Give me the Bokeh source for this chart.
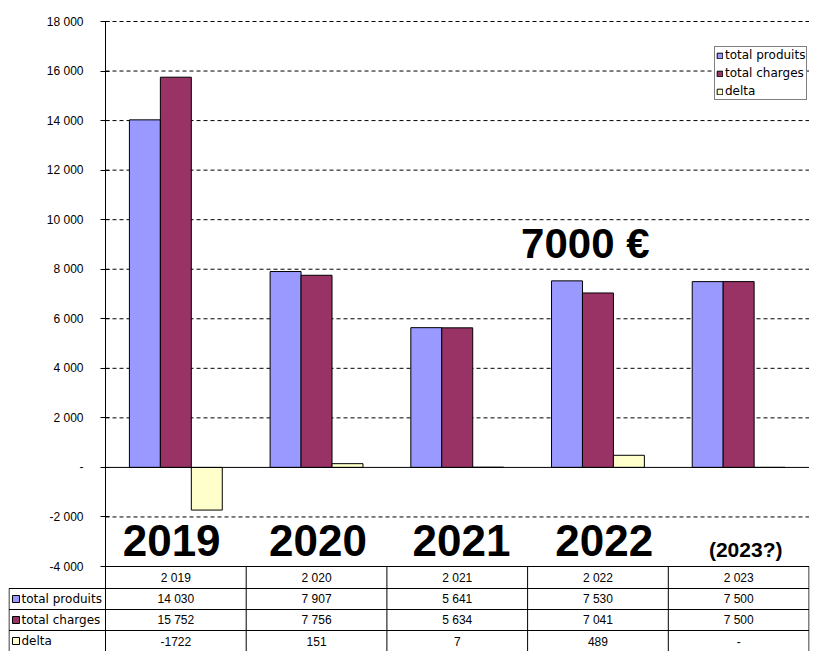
from bokeh.plotting import figure
from bokeh.models import (ColumnDataSource, Range1d, FixedTicker, Legend, LegendItem)
from bokeh.transform import dodge
from bokeh.core.properties import value
from bokeh.embed import file_html
from bokeh.resources import INLINE

# ---------------- data ----------------
years = [2019, 2020, 2021, 2022, 2023]
total_produits = [14030, 7907, 5641, 7530, 7500]
total_charges = [15752, 7756, 5634, 7041, 7500]
delta = [-1722, 151, 7, 489, 0]
series_names = ["total produits", "total charges", "delta"]
series_colors = ["#9999FF", "#993366", "#FFFFCC"]
y_ticks = [-4000, -2000, 0, 2000, 4000, 6000, 8000, 10000, 12000, 14000, 16000, 18000]
big_year_labels = ["2019", "2020", "2021", "2022"]
forecast_label = "(2023?)"
callout_text = "7000 €"


def fmt_sep(v):
    if v == 0:
        return "-"
    return f"{v:,}".replace(",", " ")


def fmt_plain(v):
    return "-" if v == 0 else str(v)


# ---------------- layout (pixels) ----------------
W, H = 816, 651
FRAME_L, FRAME_R = 8, 809               # frame spans the table's label column too
TOP_PAD = 12                            # room above the top tick label
CHART_TOP = 21                          # page y of the 18 000 line
AXIS_X = 105                            # page x of the value axis
CHART_H = 545                           # -4000 .. 18000
ROW_EDGES = [0, 22, 43, 64, 85]         # table row boundaries below -4000, px
n = len(years)
unit = (FRAME_R - 0.5 - AXIS_X) / n     # px per category
x_start = -(AXIS_X - FRAME_L) / unit
x_end = x_start + (FRAME_R - FRAME_L) / unit
k = CHART_H / (y_ticks[-1] - y_ticks[0])   # px per value unit
y_max = y_ticks[-1]
y_tab = y_ticks[0]
y_top = y_max + TOP_PAD / k
y_bottom = y_tab - ROW_EDGES[-1] / k
edges_y = [y_tab - e / k for e in ROW_EDGES]

centers = [i + 0.5 for i in range(n)]
bar_w = 0.22

src = ColumnDataSource(dict(x=centers, produits=total_produits,
                            charges=total_charges, delta=delta))

p = figure(width=W, height=H,
           x_range=Range1d(x_start, x_end), y_range=Range1d(y_bottom, y_top),
           output_backend="svg", toolbar_location=None,
           x_axis_location=None,
           min_border_left=FRAME_L, min_border_right=W - FRAME_R,
           min_border_top=CHART_TOP - TOP_PAD, min_border_bottom=0,
           outline_line_color=None, background_fill_color="white")
p.grid.visible = False

# dashed value grid, from the axis to the right edge
grid_vals = [t for t in y_ticks if t not in (0, y_ticks[0])]
p.segment(x0=[0] * len(grid_vals), y0=grid_vals, x1=[n] * len(grid_vals), y1=grid_vals,
          line_color="black", line_width=1, line_dash="4 3")

# y axis at x = 0 (its line continues down as the table's rule)
yax = p.yaxis[0]
yax.fixed_location = 0
yax.ticker = FixedTicker(ticks=y_ticks)
yax.bounds = (y_bottom, y_max)
yax.major_label_overrides = {t: fmt_sep(t) for t in y_ticks}
yax.major_label_text_font = "Liberation Sans"
yax.major_label_text_font_size = "12px"
yax.major_label_text_color = "black"
yax.major_label_standoff = 17
yax.major_tick_in = 4
yax.major_tick_out = 5
yax.minor_tick_in = 0
yax.minor_tick_out = 0
yax.axis_line_color = "black"
yax.major_tick_line_color = "black"

# bars
r1 = p.vbar(x=dodge("x", -bar_w, range=p.x_range), top="produits", width=bar_w,
            source=src, fill_color=series_colors[0], line_color="black", line_width=1)
r2 = p.vbar(x=dodge("x", 0, range=p.x_range), top="charges", width=bar_w,
            source=src, fill_color=series_colors[1], line_color="black", line_width=1)
r3 = p.vbar(x=dodge("x", bar_w, range=p.x_range), top="delta", width=bar_w,
            source=src, fill_color=series_colors[2], line_color="black", line_width=1)
renderers = [r1, r2, r3]

# zero line
p.segment(x0=[0], y0=[0], x1=[n], y1=[0], line_color="black", line_width=1)

# big labels
year_label_dx = [-0.03, 0.01, 0.03, 0.045]
p.text(x=[c + d for c, d in zip(centers, year_label_dx)],
       y=[-2950] * len(big_year_labels),
       text=big_year_labels, text_align="center", text_baseline="middle",
       text_font=value("Liberation Sans"), text_font_style="bold",
       text_font_size="44px", text_color="black")
p.text(x=[centers[-1] + 0.05], y=[-3300], text=[forecast_label], text_align="center",
       text_baseline="middle", text_font=value("Liberation Sans"),
       text_font_style="bold", text_font_size="21px", text_color="black")
p.text(x=[3.41], y=[9050], text=[callout_text], text_align="center",
       text_baseline="middle", text_font=value("Liberation Sans"),
       text_font_style="bold", text_font_size="42px", text_color="black")

# chart legend (top right)
legend = Legend(items=[LegendItem(label=nm, renderers=[r])
                       for nm, r in zip(series_names, renderers)],
                location=(706, 551), orientation="vertical",
                glyph_width=7, glyph_height=7, label_height=14, label_standoff=2,
                spacing=4, padding=1, margin=0,
                border_line_color="black", border_line_width=1,
                background_fill_color="white", background_fill_alpha=1,
                label_text_font="DejaVu Sans", label_text_font_size="12px",
                label_text_color="black")
p.add_layout(legend)

# ---------------- data table ----------------
x_left = x_start + 0.5 / unit
# horizontal rules
p.segment(x0=[0], y0=[edges_y[0]], x1=[n], y1=[edges_y[0]],
          line_color="black", line_width=1)
hy = edges_y[1:4]
p.segment(x0=[x_left] * len(hy), y0=hy, x1=[n] * len(hy), y1=hy,
          line_color="black", line_width=1)
# vertical rules
vx = list(range(1, n + 1))
p.segment(x0=vx, y0=[y_bottom] * len(vx), x1=vx, y1=[y_tab] * len(vx),
          line_color="black", line_width=1)
p.segment(x0=[x_left], y0=[y_bottom], x1=[x_left], y1=[edges_y[1]],
          line_color="black", line_width=1)

# header row: years
head_y = (edges_y[0] + edges_y[1]) / 2
p.text(x=centers, y=[head_y] * n, text=[fmt_sep(y) for y in years],
       text_align="center", text_baseline="middle",
       text_font=value("Liberation Sans"), text_font_size="12px", text_color="black")

# row headers
row_y = [(edges_y[i] + edges_y[i + 1]) / 2 for i in range(1, 4)]
p.scatter(x=[x_start + 7.5 / unit] * 3, y=row_y, marker="square", size=7,
          fill_color=series_colors, line_color="black", line_width=1)
p.text(x=[x_start + 13 / unit] * 3, y=row_y, text=series_names,
       text_align="left", text_baseline="middle",
       text_font=value("DejaVu Sans"), text_font_size="12px", text_color="black")

# data cells
cell_x, cell_y, cell_t = [], [], []
for ry, vals, f in zip(row_y, [total_produits, total_charges, delta],
                       [fmt_sep, fmt_sep, fmt_plain]):
    for c, v in zip(centers, vals):
        cell_x.append(c)
        cell_y.append(ry)
        cell_t.append(f(v))
p.text(x=cell_x, y=cell_y, text=cell_t, text_align="center", text_baseline="middle",
       text_font=value("Liberation Sans"), text_font_size="12px", text_color="black")

open("out.html", "w").write(file_html(p, INLINE))
